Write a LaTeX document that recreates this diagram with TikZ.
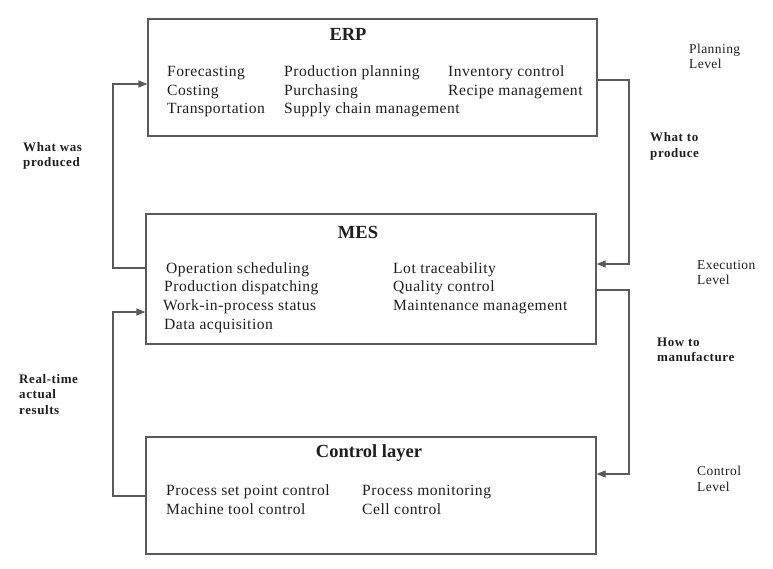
\documentclass[tikz,border=0pt]{standalone}
\usepackage{fontspec}
\setmainfont{Liberation Serif}
\newfontfamily\itemfont[LetterSpace=3.2]{Liberation Serif}
\newfontfamily\lblfont[LetterSpace=4.5]{Liberation Serif}
\usetikzlibrary{arrows.meta}
\definecolor{boxline}{HTML}{5A5A5A}
\definecolor{txt}{HTML}{1E1E1E}
\tikzset{
  layerbox/.style={draw=boxline, line width=1.2pt, minimum width=#1, inner sep=0pt},
  ttl/.style={font=\fontsize{18.5}{20}\selectfont\bfseries, text=txt, inner sep=0pt},
  item/.style={font=\itemfont\fontsize{15.6}{18}\selectfont, text=txt, anchor=base west, inner sep=0pt},
  flowlbl/.style={font=\lblfont\fontsize{13}{15.5}\selectfont\bfseries, text=txt, anchor=west, align=left, inner sep=0pt},
  lvl/.style={font=\itemfont\fontsize{13.5}{15.5}\selectfont, text=txt, anchor=west, align=left, inner sep=0pt},
  conn/.style={draw=boxline, line width=1.2pt, -{Triangle[length=9pt,width=7pt]}},
}
\begin{document}
\begin{tikzpicture}[x=1pt,y=-1pt]
\useasboundingbox (0,0) rectangle (773,568);
% boxes
\node[layerbox=449pt, minimum height=117pt] (erp) at (372.5,77.5) {};
\node[layerbox=450pt, minimum height=130pt] (mes) at (371,279) {};
\node[layerbox=450pt, minimum height=117pt] (ctl) at (371,495.5) {};
% titles
\node[ttl] (erpt) at (348,34) {ERP};
\node[ttl] (mest) at (358,232) {MES};
\node[ttl] (ctlt) at (369,453) {Control layer};
% ERP items
\node[item] (e1) at (167,76) {Forecasting};
\node[item] (e2) at (167,95) {Costing};
\node[item] (e3) at (167,113) {Transportation};
\node[item] (e4) at (284,76) {Production planning};
\node[item] (e5) at (284,95) {Purchasing};
\node[item] (e6) at (284,113) {Supply chain management};
\node[item] (e7) at (448,76) {Inventory control};
\node[item] (e8) at (448,95) {Recipe management};
% MES items
\node[item] (m1) at (166,273) {Operation scheduling};
\node[item] (m2) at (164,291) {Production dispatching};
\node[item] (m3) at (163,310) {Work-in-process status};
\node[item] (m4) at (164,329) {Data acquisition};
\node[item] (m5) at (393,273) {Lot traceability};
\node[item] (m6) at (393,291) {Quality control};
\node[item] (m7) at (393,310) {Maintenance management};
% Control items
\node[item] (c1) at (166,495) {Process set point control};
\node[item] (c2) at (166,514) {Machine tool control};
\node[item] (c3) at (362,495) {Process monitoring};
\node[item] (c4) at (362,514) {Cell control};
% connectors
\draw[conn] (mes.west|-0,268) -- (113,268) |- (erp.west|-0,84);
\draw[conn] (erp.east|-0,80) -- (629,80) |- (mes.east|-0,264);
\draw[conn] (mes.east|-0,290) -- (629,290) |- (ctl.east|-0,474);
\draw[conn] (ctl.west|-0,496) -- (113,496) |- (mes.west|-0,312);
% flow labels
\node[flowlbl] (l1) at (23,156) {What was\\produced};
\node[flowlbl] (l2) at (19,394.5) {Real-time\\actual\\results};
\node[flowlbl] (l3) at (650,146.5) {What to\\produce};
\node[flowlbl] (l4) at (657,350) {How to\\manufacture};
% level labels
\node[lvl] (v1) at (689,56.5) {Planning\\Level};
\node[lvl] (v2) at (697,272.5) {Execution\\Level};
\node[lvl] (v3) at (697,479) {Control\\Level};
\end{tikzpicture}
\end{document}
